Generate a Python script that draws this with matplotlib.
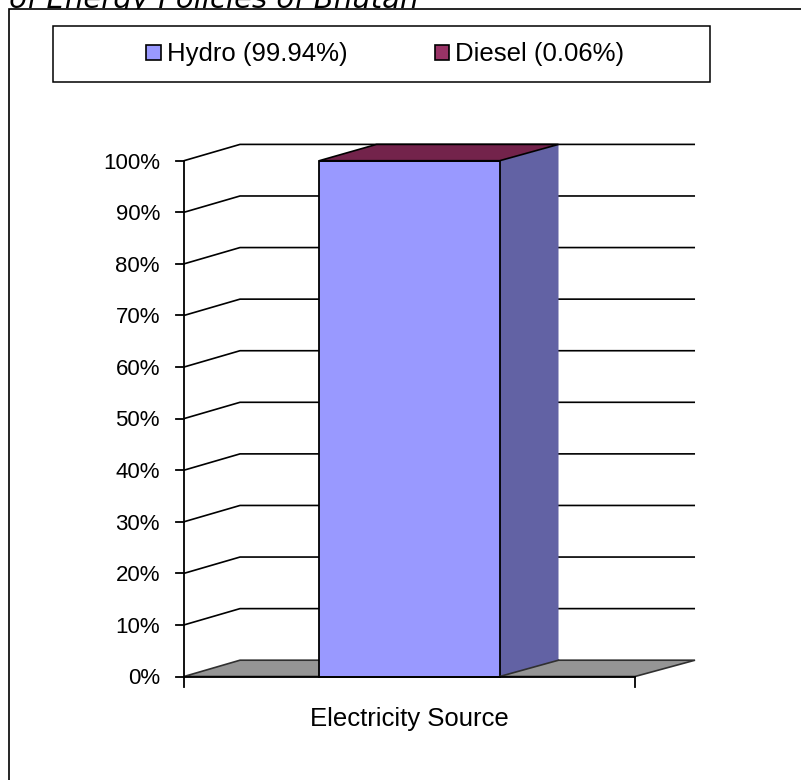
import matplotlib
matplotlib.use("Agg")
import matplotlib.pyplot as plt
from matplotlib.patches import Polygon, Rectangle, Patch

# ---------------- data ----------------
categories = ["Electricity Source"]
series_names = ["Hydro (99.94%)", "Diesel (0.06%)"]
hydro = [99.94]
diesel = [0.06]
yticks = [0, 10, 20, 30, 40, 50, 60, 70, 80, 90, 100]
ytick_labels = [f"{t}%" for t in yticks]
title = "Sources of Energy Policies of Bhutan"

# ---------------- style ----------------
FONT = "Liberation Sans"
front_colors = ["#9999FF", "#993366"]
side_colors = ["#6262A4", "#62203F"]
top_colors = ["#7373BF", "#73234B"]
floor_color = "#959595"

W, H = 801, 780
fig = plt.figure(figsize=(W / 100, H / 100), dpi=100)
ax = fig.add_axes([0, 0, 1, 1])
ax.patch.set_visible(False)
ax.axis("off")

# front plot area in pixels: x 184..635, y(0%) 676.5, y(100%) 160.7
PX0, PX1 = 184.0, 635.0
PY0, PY100 = 676.5, 160.7
sx = PX1 - PX0
sy = (PY0 - PY100) / 100.0
ax.set_xlim(-PX0 / sx, (W - PX0) / sx)
ax.set_ylim((PY0 - H) / sy, PY0 / sy)

# oblique depth projection
DX = 56.0 / sx
DY = 16.3 / sy
S = 1.0089


def back(x, y):
    return (x * S + DX, y + DY)


# ---- walls gridlines ----
for t in yticks[1:]:
    bx, by = back(0, t)
    ex, ey = back(1, t)
    ax.plot([0, bx, ex], [t, by, ey], color="black", lw=1.2, zorder=1,
            solid_capstyle="butt")

# ---- floor ----
floor = Polygon([(0, 0), (1, 0), back(1, 0), back(0, 0)], closed=True,
                facecolor=floor_color, edgecolor="#303030", lw=1.2, zorder=1.5)
ax.add_patch(floor)

# ---- stacked 3D bar ----
n = len(categories)
width = 0.4
series = [hydro, diesel]
for i in range(n):
    xc = (i + 0.5) / n
    x0, x1 = xc - width / 2, xc + width / 2
    bottom = 0.0
    for k, vals in enumerate(series):
        top = bottom + vals[i]
        side = Polygon([(x1, bottom), (x1, top), back(x1, top), back(x1, bottom)],
                       closed=True, facecolor=side_colors[k], edgecolor="none",
                       zorder=3)
        ax.add_patch(side)
        ax.add_patch(Rectangle((x0, bottom), width, vals[i],
                               facecolor=front_colors[k], edgecolor="black",
                               lw=1.3, zorder=4))
        bottom = top
    last = len(series) - 1
    topface = Polygon([(x0, bottom), (x1, bottom), back(x1, bottom), back(x0, bottom)],
                      closed=True, facecolor=top_colors[last], edgecolor="black",
                      lw=1.2, zorder=5)
    ax.add_patch(topface)
    bx, by = back(x1, 0)
    ax.plot([x1, bx], [0, by], color="#303030", lw=1.2, zorder=5)

# ---- front axes ----
tick_len_x = 8.0 / sx
tick_len_y = 10.0 / sy
ax.plot([0, 0], [-tick_len_y, 100], color="black", lw=1.3, zorder=6)
ax.plot([0, 1], [0, 0], color="black", lw=1.3, zorder=6)
ax.plot([1, 1], [-tick_len_y, 0], color="black", lw=1.3, zorder=6)
for t, lab in zip(yticks, ytick_labels):
    ax.plot([-tick_len_x, 0], [t, t], color="black", lw=1.3, zorder=6)
    ax.text(-24.0 / sx, t - 0.45, lab, ha="right", va="center",
            fontsize=16, family=FONT, color="black")

for i, c in enumerate(categories):
    ax.text((i + 0.5) / n, -42.5 / sy, c, ha="center", va="center",
            fontsize=18.5, family=FONT, color="black")

# ---- legend ----
handles = [Patch(facecolor=front_colors[k], edgecolor="black", lw=1.2)
           for k in range(len(series_names))]
leg = ax.legend(handles, series_names, loc="center",
                bbox_to_anchor=(385.5 / W, 1 - 54.5 / H),
                bbox_transform=fig.transFigure, ncol=2, frameon=False,
                prop={"family": FONT, "size": 18.5},
                handlelength=0.55, handleheight=0.55, handletextpad=0.25,
                columnspacing=3.4, borderpad=0)
fig.patches.append(Rectangle((53 / W, 1 - 82 / H), 657 / W, 56 / H,
                             transform=fig.transFigure, facecolor="none",
                             edgecolor="black", lw=1.1, zorder=10))

# ---- outer chart border & clipped title ----
fig.text(419 / W, 1 - 8.5 / H, title, ha="right", va="baseline",
         fontsize=21, style="italic", family="DejaVu Sans", zorder=-3)
fig.patches.append(Rectangle((9 / W, -0.1), 1.0, 1.1 - 9 / H,
                             transform=fig.transFigure, facecolor="white",
                             edgecolor="black", lw=1.2, zorder=-2))

fig.savefig("out.png", dpi=100)
